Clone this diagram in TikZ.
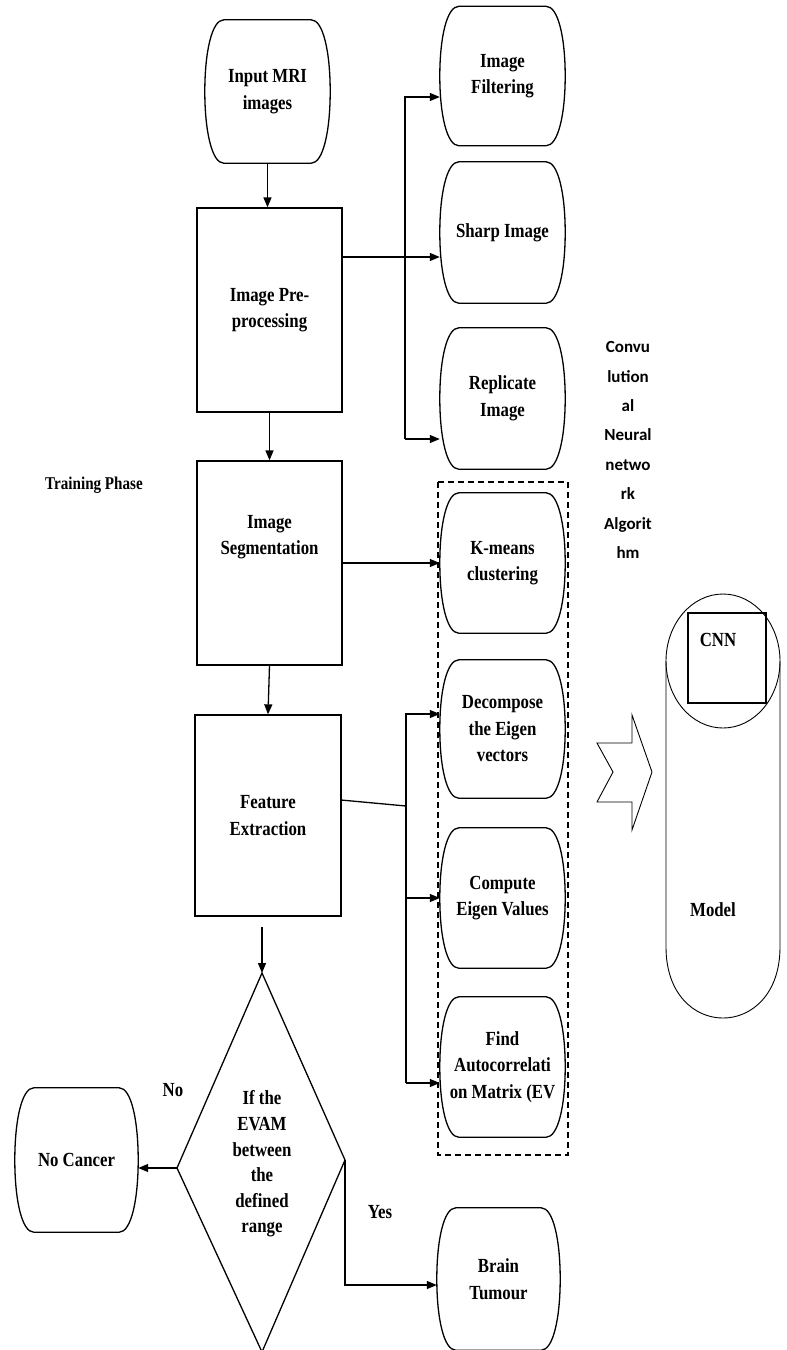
\documentclass[tikz,border=0pt]{standalone}
\usepackage{fontspec}
\setmainfont{Liberation Serif}[FakeStretch=0.84]
\newfontfamily\calib{Carlito}
\usetikzlibrary{arrows.meta,calc}
\tikzset{
  ln/.style={line width=1.3pt},
  arr/.style={ln,-{Triangle[length=10pt,width=8pt]}},
  txt/.style={font=\fontsize{20}{26.5}\selectfont\bfseries, align=center, inner sep=0pt},
  rbox/.style={ln, draw, txt, minimum width=145pt, minimum height=204pt},
  pill/.style={txt, minimum width=125pt, minimum height=140pt},
  thinln/.style={line width=0.9pt},
}
\newcommand\pillshape[1]{%
  \draw[ln] ($(#1.north west)+(19,0)$) -- ($(#1.north east)+(-19,0)$)
    .. controls ($(#1.north east)+(-7,0)$) and ($(#1.east)!0.55!(#1.north east)$) .. (#1.east)
    .. controls ($(#1.east)!0.55!(#1.south east)$) and ($(#1.south east)+(-7,0)$) .. ($(#1.south east)+(-19,0)$)
    -- ($(#1.south west)+(19,0)$)
    .. controls ($(#1.south west)+(7,0)$) and ($(#1.west)!0.55!(#1.south west)$) .. (#1.west)
    .. controls ($(#1.west)!0.55!(#1.north west)$) and ($(#1.north west)+(7,0)$) .. cycle;}
\begin{document}
\begin{tikzpicture}[x=1pt,y=-1pt]
\useasboundingbox (0,0) rectangle (787,1350);

% left column
\node[pill, minimum width=125pt, minimum height=143pt] (inp) at (267.5,91.5) {Input MRI\\images};
\pillshape{inp}
\node[rbox] (pre) at (269.5,310) {Image Pre-\\processing};
\node[rbox] (seg) at (269.5,563) {};
\node[txt] (segt) at (269.5,537) {Image\\Segmentation};
\node[rbox, minimum width=146pt, minimum height=201pt] (feat) at (268,815.5) {Feature\\Extraction};

% right column
\node[pill, minimum height=139pt] (filt) at (502.5,76) {Image\\Filtering};
\node[pill, minimum height=141pt] (sharp) at (502.5,232.5) {Sharp Image};
\node[pill, minimum height=141pt] (repl) at (502.5,398.5) {Replicate\\Image};
\node[pill] (kmeans) at (502.5,563) {K-means\\clustering};
\node[pill, minimum height=138pt] (dec) at (502.5,729) {Decompose\\the Eigen\\vectors};
\node[pill] (comp) at (502.5,898) {Compute\\Eigen Values};
\node[pill] (find) at (502.5,1067) {Find\\Autocorrelati\\on Matrix (EV};
\node[pill, minimum width=123pt, minimum height=142pt] (brain) at (498.5,1279) {Brain\\Tumour};
\node[pill, minimum width=123pt, minimum height=144pt] (nocan) at (76.5,1160) {No Cancer};
\foreach \n in {filt,sharp,repl,kmeans,dec,comp,find,brain,nocan} {\pillshape{\n}}

% dashed group
\draw[line width=1.2pt, dash pattern=on 6pt off 4pt] (438,482) rectangle (568,1155);

% decision diamond
\coordinate (dT) at (262,973);
\coordinate (dR) at (345,1160);
\coordinate (dB) at (262,1352);
\coordinate (dL) at (177,1168);
\draw[ln] (dT) -- (dR) -- (dB) -- (dL) -- cycle;
\node[txt, font=\fontsize{20}{25.6}\selectfont\bfseries] (dia) at (262,1164) {If the\\EVAM\\between\\the\\defined\\range};

% labels
\node[txt, font=\fontsize{18}{20}\selectfont\bfseries] (train) at (94,485) {Training Phase};
\node[txt] (nolab) at (173,1090) {No};
\node[txt] (yeslab) at (380,1212) {Yes};
\node[font=\calib\fontsize{17}{29.4}\selectfont\bfseries, align=center, inner sep=0pt] (cnnalg) at (628,450) {Convu\\lution\\al\\Neural\\netwo\\rk\\Algorit\\hm};

% main flow arrows
\draw[arr] (inp.south) -- (pre.north -| inp.south);
\draw[arr] (pre.south) -- (seg.north);
\draw[arr] (seg.south) -- (feat.north);
\coordinate (fe) at (262,927);
\draw[arr] (fe) -- (dT);

% pre-processing branches
\coordinate (b1) at (405,97);
\coordinate (b2) at (405,439);
\coordinate (ps) at (342,257);
\draw[arr] (ps) -- (sharp.west |- ps);
\draw[arr] (b2) -- (b1) -- (filt.west |- b1);
\draw[arr] (b2) -- (repl.west |- b2);

% segmentation
\draw[arr] (seg.east) -- (kmeans.west);

% feature extraction branches
\coordinate (fs) at (341,800);
\coordinate (cs) at (406,806);
\coordinate (c1) at (406,714);
\coordinate (c2) at (406,898);
\coordinate (c3) at (406,1083);
\draw[ln] (fs) -- (cs);
\draw[arr] (c3) -- (c1) -- (dec.west |- c1);
\draw[arr] (c2) -- (comp.west |- c2);
\draw[arr] (c3) -- (find.west |- c3);

% decision outputs
\draw[arr] (dL) -- (nocan.east |- dL);
\coordinate (yb) at (345,1285);
\draw[arr] (dR) -- (yb) -- (brain.west |- yb);

% block arrow
\draw[thinln] (597,743) -- (632,743) -- (632,715) -- (652,772) -- (632,830) -- (632,802) -- (597,802) -- (613,772) -- cycle;

% CNN model cylinder
\draw[thinln] (723,661) ellipse [x radius=57, y radius=67];
\draw[thinln] (666,661) -- (666,947) .. controls (666,1041.7) and (780,1041.7) .. (780,947) -- (780,661);
\draw[line width=1.1pt] (688,613) rectangle (766,703);
\node[txt] (cnn) at (718,640) {CNN};
\node[txt] (model) at (713,910) {Model};
\end{tikzpicture}
\end{document}
